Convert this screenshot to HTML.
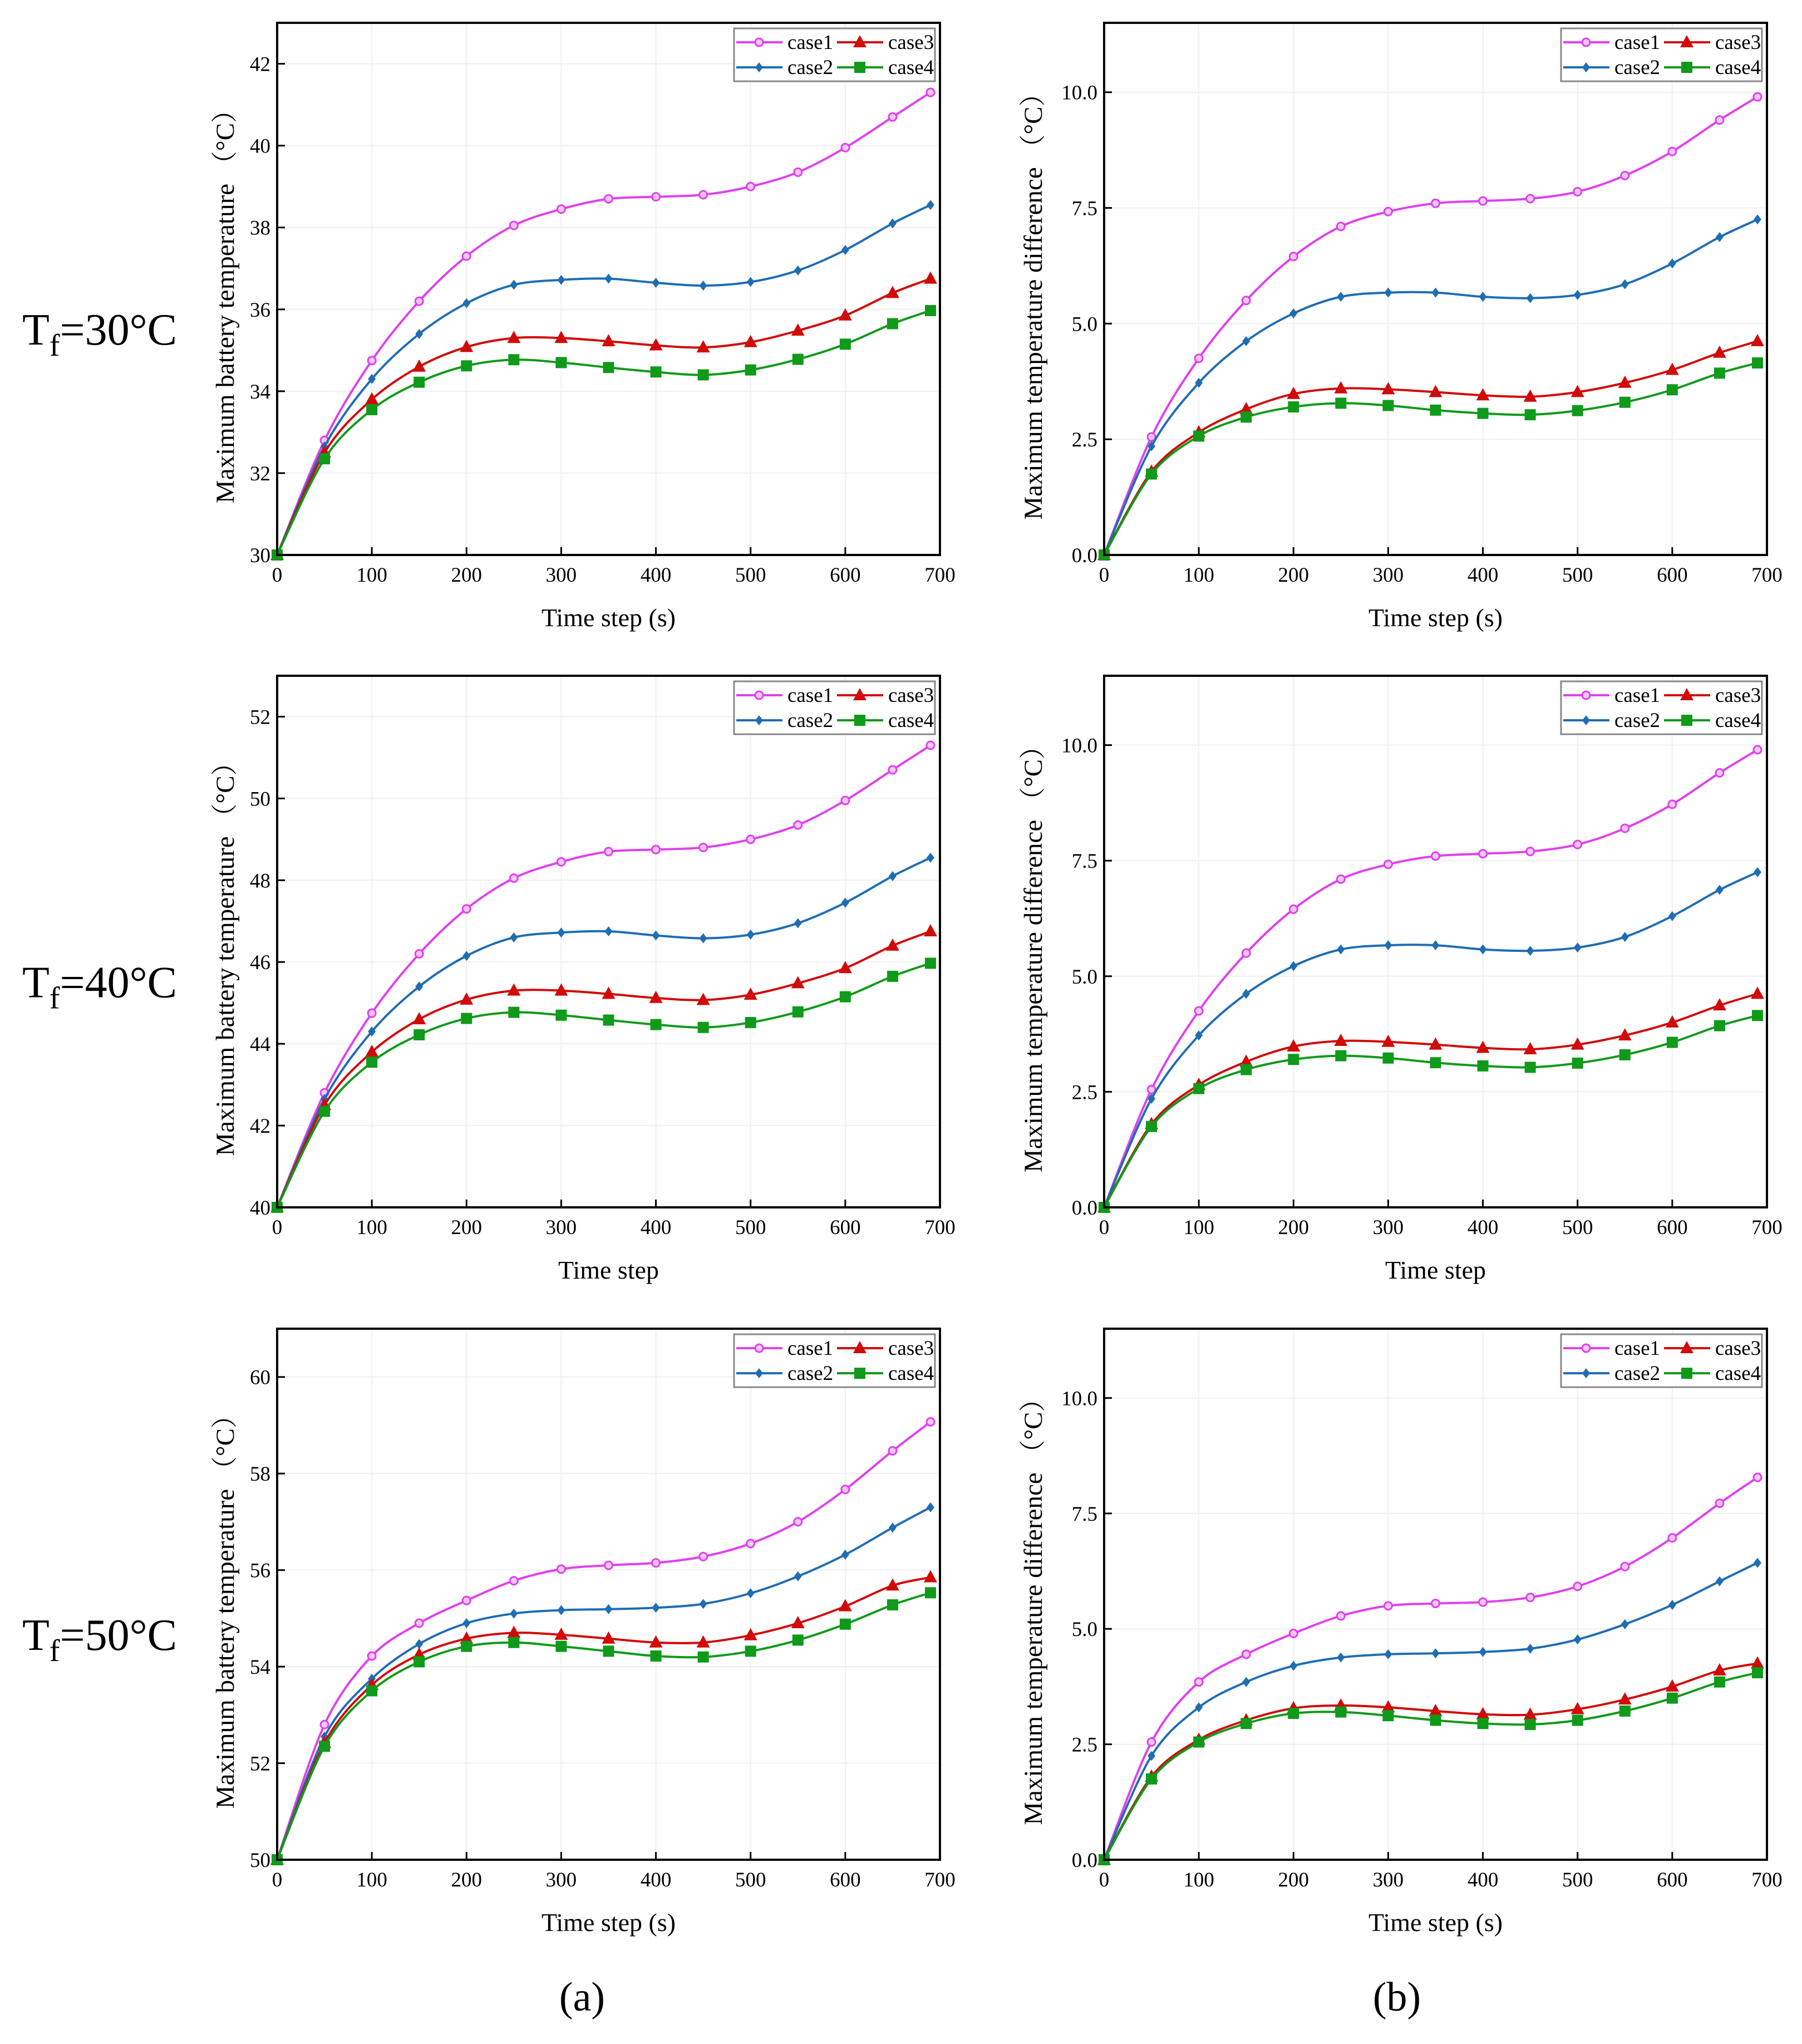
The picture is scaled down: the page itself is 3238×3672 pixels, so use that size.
<!DOCTYPE html>
<html><head><meta charset="utf-8"><style>
html,body{margin:0;padding:0;background:#fff}
svg{display:block}
svg text{font-family:"Liberation Serif","Noto Serif CJK SC",serif}
</style></head><body>
<svg id="fig" width="3238" height="3672" viewBox="0 0 3238 3672" xmlns="http://www.w3.org/2000/svg"></svg>
<script>
const timeSteps = [0,50,100,150,200,250,300,350,400,450,500,550,600,650,690];
const xTicks = [0,100,200,300,400,500,600,700];
const caseNames = ["case1","case2","case3","case4"];
const temp30_case1 = [30,32.8,34.75,36.2,37.3,38.05,38.45,38.7,38.75,38.8,39.0,39.35,39.95,40.7,41.3];
const temp30_case2 = [30,32.65,34.3,35.4,36.15,36.6,36.72,36.75,36.65,36.58,36.67,36.95,37.45,38.1,38.55];
const temp30_case3 = [30,32.5,33.8,34.6,35.08,35.3,35.3,35.22,35.12,35.07,35.2,35.48,35.85,36.4,36.75];
const temp30_case4 = [30,32.35,33.55,34.22,34.62,34.77,34.7,34.58,34.47,34.4,34.52,34.78,35.15,35.65,35.97];
const temp40_case1 = [40,42.8,44.75,46.2,47.3,48.05,48.45,48.7,48.75,48.8,49.0,49.35,49.95,50.7,51.3];
const temp40_case2 = [40,42.65,44.3,45.4,46.15,46.6,46.72,46.75,46.65,46.58,46.67,46.95,47.45,48.1,48.55];
const temp40_case3 = [40,42.5,43.8,44.6,45.08,45.3,45.3,45.22,45.12,45.07,45.2,45.48,45.85,46.4,46.75];
const temp40_case4 = [40,42.35,43.55,44.22,44.62,44.77,44.7,44.58,44.47,44.4,44.52,44.78,45.15,45.65,45.97];
const temp50_case1 = [50,52.8,54.22,54.9,55.37,55.78,56.02,56.1,56.15,56.28,56.55,57.0,57.67,58.47,59.07];
const temp50_case2 = [50,52.55,53.75,54.47,54.9,55.1,55.17,55.19,55.22,55.3,55.52,55.87,56.32,56.88,57.3];
const temp50_case3 = [50,52.42,53.62,54.25,54.58,54.7,54.66,54.58,54.5,54.5,54.65,54.9,55.25,55.68,55.85];
const temp50_case4 = [50,52.35,53.5,54.1,54.42,54.5,54.42,54.32,54.22,54.2,54.32,54.55,54.88,55.28,55.53];
const diff30_case1 = [0,2.55,4.25,5.5,6.45,7.1,7.42,7.6,7.65,7.7,7.85,8.2,8.72,9.4,9.9];
const diff30_case2 = [0,2.35,3.72,4.62,5.22,5.58,5.67,5.67,5.58,5.55,5.62,5.85,6.3,6.87,7.25];
const diff30_case3 = [0,1.8,2.65,3.15,3.48,3.6,3.58,3.52,3.45,3.42,3.52,3.72,4.0,4.37,4.62];
const diff30_case4 = [0,1.75,2.57,2.98,3.2,3.28,3.23,3.13,3.06,3.03,3.12,3.3,3.57,3.93,4.15];
const diff40_case1 = [0,2.55,4.25,5.5,6.45,7.1,7.42,7.6,7.65,7.7,7.85,8.2,8.72,9.4,9.9];
const diff40_case2 = [0,2.35,3.72,4.62,5.22,5.58,5.67,5.67,5.58,5.55,5.62,5.85,6.3,6.87,7.25];
const diff40_case3 = [0,1.8,2.65,3.15,3.48,3.6,3.58,3.52,3.45,3.42,3.52,3.72,4.0,4.37,4.62];
const diff40_case4 = [0,1.75,2.57,2.98,3.2,3.28,3.23,3.13,3.06,3.03,3.12,3.3,3.57,3.93,4.15];
const diff50_case1 = [0,2.55,3.85,4.45,4.9,5.28,5.5,5.55,5.58,5.68,5.92,6.35,6.97,7.72,8.28];
const diff50_case2 = [0,2.25,3.3,3.85,4.2,4.38,4.45,4.47,4.5,4.57,4.77,5.1,5.52,6.03,6.43];
const diff50_case3 = [0,1.8,2.6,3.02,3.28,3.34,3.3,3.22,3.15,3.14,3.26,3.47,3.75,4.1,4.25];
const diff50_case4 = [0,1.75,2.55,2.95,3.17,3.2,3.12,3.02,2.95,2.93,3.02,3.22,3.5,3.85,4.05];
const tempTicks30 = [30,32,34,36,38,40,42];
const tempTicks40 = [40,42,44,46,48,50,52];
const tempTicks50 = [50,52,54,56,58,60];
const diffTicks = [0,2.5,5,7.5,10];

const NS="http://www.w3.org/2000/svg";
const svg=document.getElementById('fig');
const colors=["#e03ff0","#1f6db3","#d10a0a","#0f9a1a"];
function mk(tag,attrs,parent){const e=document.createElementNS(NS,tag);for(const k in attrs)e.setAttribute(k,attrs[k]);(parent||svg).appendChild(e);return e;}
function txt(s,attrs,parent){attrs['font-family']='Liberation Serif, serif';const e=mk('text',attrs,parent);e.textContent=s;return e;}
function marker(i,x,y,g){
  let m;
  if(i===0){m=mk('circle',{cx:x,cy:y,r:7,fill:'#f6c8fb',stroke:colors[0],'stroke-width':3},g);}
  else if(i===1){m=mk('polygon',{points:`${x},${y-9} ${x+7},${y} ${x},${y+9} ${x-7},${y}`,fill:colors[1]},g);}
  else if(i===2){m=mk('polygon',{points:`${x},${y-13} ${x+12},${y+9} ${x-12},${y+9}`,fill:colors[2]},g);}
  else {m=mk('rect',{x:x-10,y:y-10,width:20,height:20,fill:colors[3]},g);}
  
  
}
function smoothPath(pts){
  let d=`M${pts[0][0]},${pts[0][1]}`;
  for(let i=0;i<pts.length-1;i++){
    const p0=pts[Math.max(0,i-1)],p1=pts[i],p2=pts[i+1],p3=pts[Math.min(pts.length-1,i+2)];
    const t=0.16;
    const c1=[p1[0]+(p2[0]-p0[0])*t,p1[1]+(p2[1]-p0[1])*t];
    const c2=[p2[0]-(p3[0]-p1[0])*t,p2[1]-(p3[1]-p1[1])*t];
    d+=` C${c1[0]},${c1[1]} ${c2[0]},${c2[1]} ${p2[0]},${p2[1]}`;
  }
  return d;
}
function panel(o){
  const g=mk('g',{});
  
  
  const L=o.x0,R=o.x1,T=o.y0,B=o.y1;
  const xs=v=>L+(v-0)/(700-0)*(R-L);
  const ys=v=>B-(v-o.ymin)/(o.ymax-o.ymin)*(B-T);
  xTicks.forEach(t=>{if(t>0&&t<700)mk('line',{x1:xs(t),x2:xs(t),y1:T,y2:B,stroke:'#f0f0f0','stroke-width':2},g);});
  o.ticks.forEach(t=>{if(t>o.ymin)mk('line',{x1:L,x2:R,y1:ys(t),y2:ys(t),stroke:'#f0f0f0','stroke-width':2},g);});
  xTicks.forEach(t=>{
    mk('line',{x1:xs(t),x2:xs(t),y1:B,y2:B-14,stroke:'#000','stroke-width':3},g);
    const l=txt(String(t),{x:xs(t),y:B+48,'font-size':37,'text-anchor':'middle',fill:'#000'},g);
    
  });
  o.ticks.forEach(t=>{
    mk('line',{x1:L,x2:L+14,y1:ys(t),y2:ys(t),stroke:'#000','stroke-width':3},g);
    const l=txt(o.fmt(t),{x:L-12,y:ys(t)+13,'font-size':37,'text-anchor':'end',fill:'#000'},g);
    
  });
  o.series.forEach((arr,i)=>{
    const sg=mk('g',{},g);
    
    
    const pts=arr.map((v,k)=>[xs(timeSteps[k]),ys(v)]);
    mk('path',{d:smoothPath(pts),fill:'none',stroke:colors[i],'stroke-width':4},sg);
    pts.forEach(p=>marker(i,p[0],p[1],sg));
  });
  mk('rect',{x:L,y:T,width:R-L,height:B-T,fill:'none',stroke:'#000','stroke-width':4},g);
  const xt=txt(o.xtitle,{x:(L+R)/2,y:B+128,'font-size':46,'text-anchor':'middle'},g);
  
  const cx=o.ytx, cy=(T+B)/2+20;
  const yt=txt(o.ytitle,{x:cx,y:cy,'font-size':47,'text-anchor':'middle',transform:`rotate(-90 ${cx} ${cy})`},g);
  
  const lg=mk('g',{},g);
  
  
  mk('rect',{x:R-370,y:T+10,width:361,height:95,fill:'#fff',stroke:'#888','stroke-width':3},lg);
  const pos=[[0,35],[0,80],[181,35],[181,80]];
  caseNames.forEach((n,i)=>{
    const lx=R-366+pos[i][0], ly=T+pos[i][1];
    const e=mk('g',{},lg);
    
    
    mk('line',{x1:lx,x2:lx+83,y1:ly,y2:ly,stroke:colors[i],'stroke-width':4},e);
    marker(i,lx+41,ly,e);
    txt(n,{x:lx+92,y:ly+12,'font-size':37},e);
  });
}
const rows=[[41,997],[1214,2169],[2387,3341]];
const leftCfg=[
 {ymin:30,ymax:43,ticks:tempTicks30,series:[temp30_case1,temp30_case2,temp30_case3,temp30_case4],xt:"Time step (s)"},
 {ymin:40,ymax:53,ticks:tempTicks40,series:[temp40_case1,temp40_case2,temp40_case3,temp40_case4],xt:"Time step"},
 {ymin:50,ymax:61,ticks:tempTicks50,series:[temp50_case1,temp50_case2,temp50_case3,temp50_case4],xt:"Time step (s)"}];
const rightSeries=[[diff30_case1,diff30_case2,diff30_case3,diff30_case4],[diff40_case1,diff40_case2,diff40_case3,diff40_case4],[diff50_case1,diff50_case2,diff50_case3,diff50_case4]];
rows.forEach((r,k)=>{
  panel({name:'temperature-chart-row'+(k+1),x0:498,x1:1689,y0:r[0],y1:r[1],ymin:leftCfg[k].ymin,ymax:leftCfg[k].ymax,ticks:leftCfg[k].ticks,fmt:t=>String(t),series:leftCfg[k].series,xtitle:leftCfg[k].xt,ytitle:"Maximum battery temperature （°C）",ytx:420});
  panel({name:'difference-chart-row'+(k+1),x0:1984,x1:3175,y0:r[0],y1:r[1],ymin:0,ymax:11.5,ticks:diffTicks,fmt:t=>t.toFixed(1),series:rightSeries[k],xtitle:leftCfg[k].xt,ytitle:"Maximum temperature difference （°C）",ytx:1872});
  const lab=mk('text',{x:40,y:(r[0]+r[1])/2+100,'font-size':80,'font-family':'Liberation Serif, serif'});
  
  
  lab.innerHTML=`T<tspan dy="20" font-size="56">f</tspan><tspan dy="-20">=${30+k*10}°C</tspan>`;
});
const a=txt("(a)",{x:1046,y:3612,'font-size':74,'text-anchor':'middle'});

const b=txt("(b)",{x:2510,y:3612,'font-size':74,'text-anchor':'middle'});

</script>
</body></html>
